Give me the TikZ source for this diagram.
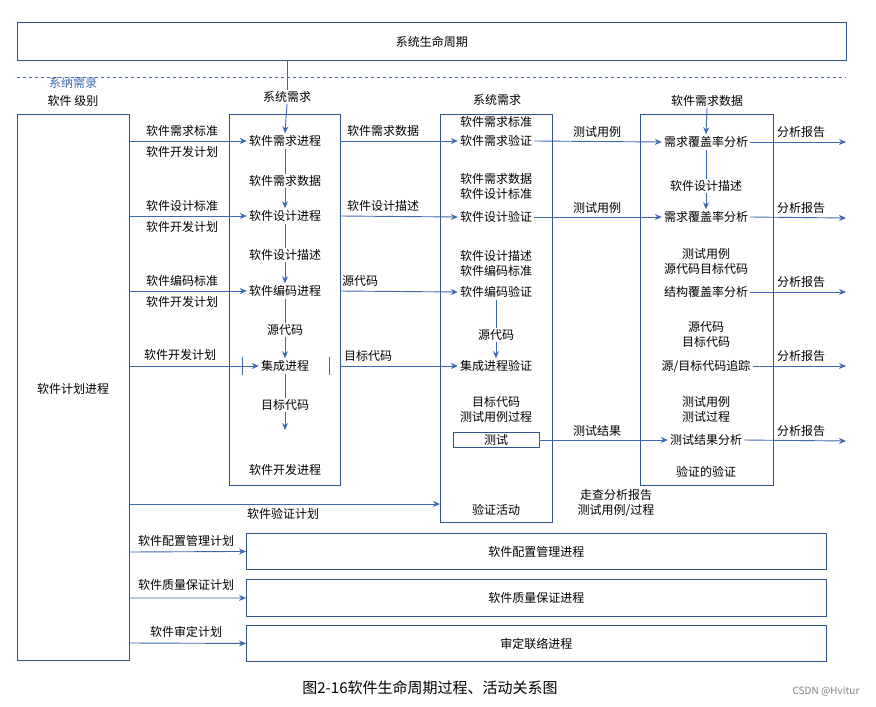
\documentclass[tikz,border=0pt]{standalone}
\usepackage{fontspec}
\setmainfont{Noto Sans CJK SC}
\usetikzlibrary{arrows.meta}
\definecolor{ln}{RGB}{60,105,175}
\begin{document}
\begin{tikzpicture}[x=1pt,y=-1pt,font=\fontsize{12}{14}\selectfont,
 box/.style={draw=ln!80!black,line width=0.9pt},
 con/.style={ln,line width=0.9pt},
 arr/.style={con,-{Stealth[length=7pt,width=6pt]}},
 t/.style={inner sep=1pt,align=center},
 tw/.style={t,fill=white},
 it/.style={inner sep=2pt,fill=white}]
\useasboundingbox (0,0) rectangle (876,707);
% top
\node[box,minimum width=829,minimum height=38,anchor=north west] (life) at (17,22) {系统生命周期};
\draw[con,dashed] (17,77) -- (846,77);
\node[t,text=ln] (sysreq0) at (73,83) {系纳需录};
\node[t] (swlvl) at (73,101) {软件 级别};
% left plan box
\node[box,minimum width=112,minimum height=546,anchor=north west] (plan) at (17,114) {};
\node[t] (planT) at (73,389) {软件计划进程};
% dev box
\node[box,minimum width=111,minimum height=371,anchor=north west] (dev) at (229,114) {};
\node[t] (devT) at (285,470) {软件开发进程};
\node[tw] (sysreq1) at (287,97) {系统需求};
\node[it] (d1) at (285,141) {软件需求进程};
\node[t] (dl1) at (285,181) {软件需求数据};
\node[it] (d2) at (285,216) {软件设计进程};
\node[t] (dl2) at (285,255) {软件设计描述};
\node[it] (d3) at (285,291) {软件编码进程};
\node[t] (dl3) at (285,330) {源代码};
\node[it] (d4) at (285,366) {集成进程};
\node[t] (dl4) at (285,405) {目标代码};
\coordinate (dend) at (285,430);
\draw[con] (287,60) -- (sysreq1.north);
\draw[arr] (sysreq1.south) -- (d1.north);
\draw[con] (d1.south) -- (dl1.north); \draw[arr] (dl1.south) -- (d2.north);
\draw[con] (d2.south) -- (dl2.north); \draw[arr] (dl2.south) -- (d3.north);
\draw[con] (d3.south) -- (dl3.north); \draw[arr] (dl3.south) -- (d4.north);
\draw[con] (d4.south) -- (dl4.north); \draw[arr] (dl4.south) -- (dend);
\draw[con] (242,357) -- (242,375);
\draw[con] (329,357) -- (329,375);
% plan inputs
\foreach \y/\n/\a/\b in {141/1/软件需求标准/软件开发计划,216/2/软件设计标准/软件开发计划,291/3/软件编码标准/软件开发计划}{
  \coordinate (ps\n) at (129,\y);
  \draw[arr] (ps\n) -- (d\n.west);
  \node[tw] (pl\n) at (182,\y-10) {\a};
  \node[tw] (plb\n) at (182,\y+11) {\b};
}
\coordinate (ps4) at (129,366);
\draw[arr] (ps4) -- (d4.west);
\node[tw] (pl4) at (180,355) {软件开发计划};
% verification box
\node[box,minimum width=112,minimum height=408,anchor=north west] (ver) at (440,114) {};
\node[t] (verT) at (496,510) {验证活动};
\node[t] (sysreq2) at (497,100) {系统需求};
\node[tw] (vl1) at (496,122) {软件需求标准};
\node[it] (v1) at (496,141) {软件需求验证};
\node[t] (vl2) at (496,186) {软件需求数据\\[1pt]软件设计标准};
\node[it] (v2) at (496,217) {软件设计验证};
\node[t] (vl3) at (496,263) {软件设计描述\\[1pt]软件编码标准};
\node[it] (v3) at (496,292) {软件编码验证};
\node[t] (vl4) at (496,335) {源代码};
\node[it] (v4) at (496,366) {集成进程验证};
\node[t] (vl5) at (496,409) {目标代码\\[1pt]测试用例过程};
\node[it,draw=ln!80!black,minimum width=86] (v5) at (496,440) {测试};
\draw[arr] (vl4.south) -- (v4.north);
\draw[con] (v3.south) -- (vl4.north);
% dev -> ver
\foreach \y/\n/\l/\lx in {141/1/软件需求数据/383,216/2/软件设计描述/383,291/3/源代码/360,366/4/目标代码/368}{
  \coordinate (do\n) at (340,\y);
  \draw[arr] (do\n) -- (v\n.west);
  \node[tw] (ol\n) at (\lx,\y-10) {\l};
}
% analysis box
\draw[box] (640,485) -- (640,114) -- (773,114) -- (773,485) -- cycle;
\node[tw] (asd) at (707,101) {软件需求数据};
\node[it] (a1) at (706,142) {需求覆盖率分析};
\node[t] (al2) at (706,186) {软件设计描述};
\node[it] (a2) at (706,217) {需求覆盖率分析};
\node[t] (al3) at (706,261) {测试用例\\[1pt]源代码目标代码};
\node[it] (a3) at (706,292) {结构覆盖率分析};
\node[t] (al4) at (706,335) {源代码\\[1pt]目标代码};
\node[it] (a4) at (706,366) {源/目标代码追踪};
\node[t] (al5) at (706,409) {测试用例\\[1pt]测试过程};
\node[it] (a5) at (706,440) {测试结果分析};
\node[t] (aT) at (706,472) {验证的验证};
\draw[arr] (asd.south) -- (a1.north);
\draw[con] (a1.south) -- (al2.north);
\draw[arr] (al2.south) -- (a2.north);
% ver -> analysis
\draw[arr] (v1.east) -- (a1.west);
\draw[arr] (v2.east) -- (a2.west);
\draw[arr] (v5.east) -- (a5.west);
\node[tw] (tc1) at (597,132) {测试用例};
\node[tw] (tc2) at (597,208) {测试用例};
\node[tw] (tr) at (597,431) {测试结果};
% reports
\foreach \n/\y in {1/142,2/218,3/292,4/366,5/441}{
  \coordinate (re\n) at (846,\y);
  \draw[arr] (a\n.east) -- (re\n);
  \node[tw] (r\n) at (801,\y-10) {分析报告};
}
% verification plan
\coordinate (vp) at (129,504);
\coordinate (vpe) at (440,504);
\draw[arr] (vp) -- (vpe);
\node[tw] (vpl) at (283,514) {软件验证计划};
\node[t] (walk) at (616,503) {走查分析报告\\[1pt]测试用例/过程};
% bottom boxes
\node[box,minimum width=580,minimum height=36,anchor=north west] (cm) at (246,533) {软件配置管理进程};
\node[box,minimum width=580,minimum height=37,anchor=north west] (qa) at (246,579) {软件质量保证进程};
\node[box,minimum width=580,minimum height=36,anchor=north west] (ce) at (246,625) {审定联络进程};
\coordinate (cms) at (129,552); \coordinate (qas) at (129,598); \coordinate (ces) at (129,643);
\draw[arr] (cms) -- (cm.west);
\draw[arr] (qas) -- (qa.west);
\draw[arr] (ces) -- (ce.west);
\node[tw] (cml) at (186,541) {软件配置管理计划};
\node[tw] (qal) at (186,585) {软件质量保证计划};
\node[tw] (cel) at (186,632) {软件审定计划};
% caption
\node[t,font=\fontsize{15}{17}\selectfont] (cap) at (430,688) {图2-16软件生命周期过程、活动关系图};
\node[t,text=gray,font=\fontsize{10}{12}\selectfont] (wm) at (826,691) {CSDN @Hvitur};
\end{tikzpicture}
\end{document}
